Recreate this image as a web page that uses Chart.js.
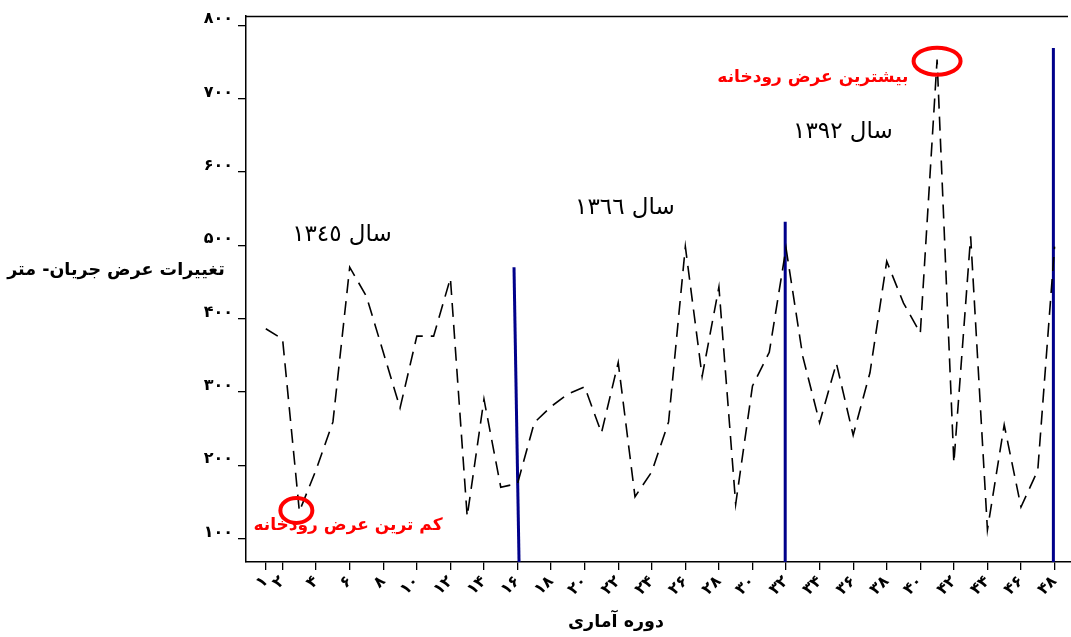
<!DOCTYPE html>
<html lang="fa">
<head>
<meta charset="utf-8">
<script src="https://cdn.jsdelivr.net/npm/chart.js@4.4.1/dist/chart.umd.min.js"></script>
<style>
  html, body { margin: 0; padding: 0; background: #fff; }
  #wrap { position: relative; width: 1071px; height: 637px; }
</style>
</head>
<body>
<div id="wrap"><canvas id="chart" width="1071" height="637"></canvas></div>
<script>
// Statistical periods and the river flow width (metres) for each one
const periods = [1, 2, 3, 4, 5, 6, 7, 8, 9, 10, 11, 12, 13, 14, 15, 16,
                 17, 18, 19, 20, 21, 22, 23, 24, 25, 26, 27, 28, 29, 30, 31, 32,
                 33, 34, 35, 36, 37, 38, 39, 40, 41, 42, 43, 44, 45, 46, 47, 48];
const widths = [386, 372, 137, 194, 259, 470, 430, 354, 278, 376, 376, 455, 130, 290, 170, 175,
                258, 280, 297, 307, 244, 340, 157, 191, 259, 498, 321, 443, 147, 308, 354, 496,
                348, 258, 339, 241, 326, 478, 421, 380, 753, 203, 512, 112, 255, 143, 193, 498];

// Axis ticks
const xTickValues = [1, 2, 4, 6, 8, 10, 12, 14, 16, 18, 20, 22, 24, 26, 28, 30, 32,
                     34, 36, 38, 40, 42, 44, 46, 48];
const yTickValues = [100, 200, 300, 400, 500, 600, 700, 800];

// Period breaks (years 1345, 1366, 1392): foot and head of each marker
const breakFoot = [16.09, 31.95, 47.93];
const breakHead = [15.79, 31.95, 47.93];
const breakTop = [470, 532, 769];
const breakYears = ['سال ١٣٤٥', 'سال ١٣٦٦', 'سال ١٣٩٢'];

// Periods singled out as narrowest and widest river
const narrowestPeriod = 3;
const widestPeriod = 41;

const Y_MIN = 68, Y_MAX = 812.5;
const X_MIN = -0.18, X_MAX = 48.98;

const FA = '۰۱۲۳۴۵۶۷۸۹';
const toFa = n => String(n).replace(/[0-9]/g, d => FA[+d]);

const FONT = '"DejaVu Sans", sans-serif';

const lineData = periods.map((p, i) => ({ x: p, y: widths[i] }));
const breakSets = breakFoot.map((p, i) => ({
  data: [{ x: breakHead[i], y: breakTop[i] }, { x: p, y: Y_MIN }],
  borderColor: '#00008b',
  borderWidth: 3,
  pointRadius: 0,
  tension: 0,
  fill: false
}));

const notes = {
  id: 'notes',
  afterDatasetsDraw(chart) {
    const { ctx, chartArea: a, scales: { x, y } } = chart;
    ctx.save();

    // upper frame line
    ctx.strokeStyle = '#000';
    ctx.lineWidth = 1.5;
    ctx.beginPath();
    ctx.moveTo(a.left, a.top + 0.5);
    ctx.lineTo(a.right - 3, a.top + 0.5);
    ctx.stroke();

    ctx.textAlign = 'center';
    ctx.textBaseline = 'middle';
    ctx.direction = 'rtl';

    // year captions
    ctx.fillStyle = '#000';
    ctx.font = '23px ' + FONT;
    const yearSpots = [[5.54, 514], [22.4, 551], [35.39, 654]];
    yearSpots.forEach(([px, py], i) => {
      ctx.fillText(breakYears[i], x.getPixelForValue(px), y.getPixelForValue(py));
    });

    // narrowest and widest rings
    const iLo = periods.indexOf(narrowestPeriod);
    const iHi = periods.indexOf(widestPeriod);
    ctx.strokeStyle = '#ff0000';
    ctx.lineWidth = 4;
    ctx.beginPath();
    ctx.ellipse(x.getPixelForValue(periods[iLo]) - 3, y.getPixelForValue(widths[iLo]) - 1, 16, 12.5, 0, 0, Math.PI * 2);
    ctx.stroke();
    ctx.beginPath();
    ctx.ellipse(x.getPixelForValue(periods[iHi]), y.getPixelForValue(widths[iHi]) + 1.5, 23.5, 13.5, 0, 0, Math.PI * 2);
    ctx.stroke();

    ctx.fillStyle = '#ff0000';
    ctx.font = 'bold 17px ' + FONT;
    ctx.fillText('بیشترین عرض رودخانه', x.getPixelForValue(33.6), y.getPixelForValue(728.6));
    ctx.fillText('کم ترین عرض رودخانه', x.getPixelForValue(5.9), y.getPixelForValue(117));

    // axis titles
    ctx.fillStyle = '#000';
    ctx.font = 'bold 17.5px ' + FONT;
    ctx.fillText('تغییرات عرض جریان- متر', 116, 270);
    ctx.fillText('دوره آماری', 616, 622);

    ctx.restore();
  }
};

new Chart(document.getElementById('chart'), {
  type: 'line',
  data: {
    datasets: [{
      data: lineData,
      borderColor: '#000',
      borderWidth: 1.6,
      borderDash: [14, 8],
      pointRadius: 0,
      tension: 0,
      fill: false
    }, ...breakSets]
  },
  options: {
    responsive: false,
    animation: false,
    layout: { padding: { top: 16, right: 0, left: 0, bottom: 0 } },
    plugins: { legend: { display: false }, tooltip: { enabled: false } },
    scales: {
      x: {
        type: 'linear',
        min: X_MIN,
        max: X_MAX,
        afterBuildTicks: s => { s.ticks = xTickValues.map(v => ({ value: v })); },
        afterFit: s => { s.height = 75; s.paddingLeft = 0; s.paddingRight = 0; },
        grid: { display: true, drawOnChartArea: false, drawTicks: true, tickLength: 8, color: '#000', lineWidth: 1.3 },
        border: { display: true, color: '#000', width: 1.5 },
        ticks: {
          autoSkip: false,
          minRotation: 45,
          maxRotation: 45,
          padding: 2,
          color: '#000',
          font: { family: FONT, weight: 'bold', size: 16 },
          callback: v => toFa(v)
        }
      },
      y: {
        min: Y_MIN,
        max: Y_MAX,
        afterBuildTicks: s => { s.ticks = yTickValues.map(v => ({ value: v })); },
        afterFit: s => { s.width = 246; },
        grid: { display: true, drawOnChartArea: false, drawTicks: true, tickLength: 8, color: '#000', lineWidth: 1.3 },
        border: { display: true, color: '#000', width: 1.5 },
        ticks: {
          padding: 5,
          labelOffset: -6,
          color: '#000',
          font: { family: FONT, weight: 'bold', size: 16 },
          callback: v => toFa(v)
        }
      }
    }
  },
  plugins: [notes]
});
</script>
</body>
</html>
